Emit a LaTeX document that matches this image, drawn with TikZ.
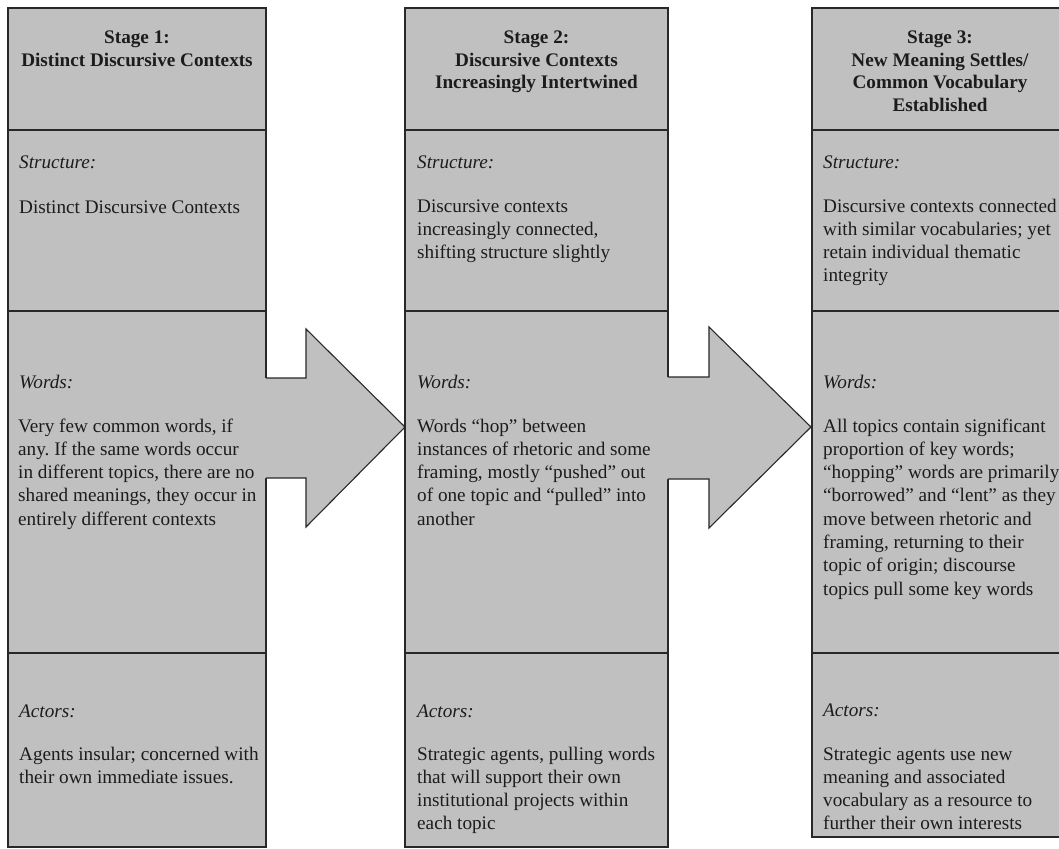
\documentclass[tikz,border=0pt]{standalone}
\usepackage{fontspec}
\setmainfont{Liberation Serif}
\frenchspacing
\definecolor{cellgray}{RGB}{192,192,192}
\definecolor{linegray}{RGB}{40,40,40}
\definecolor{txt}{RGB}{28,28,28}
\begin{document}
\begin{tikzpicture}[x=1pt,y=-1pt,
  col/.style={fill=cellgray, draw=linegray, line width=1.2pt},
  divider/.style={draw=linegray, line width=1.4pt},
  arrowfill/.style={fill=cellgray},
  arrowline/.style={draw=linegray, line width=1.1pt, line join=miter},
  title/.style={font=\fontsize{19.2}{22.5}\selectfont\bfseries, align=center, anchor=base, inner sep=0pt, text=txt},
  head/.style={font=\fontsize{19.2}{23.3}\selectfont\itshape, anchor=base west, inner sep=0pt, text=txt},
  body/.style={font=\fontsize{19.2}{23.3}\selectfont, align=left, anchor=base west, inner sep=0pt, text=txt},
]
\useasboundingbox (0,0) rectangle (1059,848);
\clip (0,0) rectangle (1059,848);

% columns
\draw[col] (8,8) rectangle (266,847);
\draw[col] (405,8) rectangle (668,847);
\draw[col] (812,8) rectangle (1068,837);

% dividers
\foreach \yy in {130,311,653} {
  \draw[divider] (8,\yy) -- (266,\yy);
  \draw[divider] (405,\yy) -- (668,\yy);
  \draw[divider] (812,\yy) -- (1068,\yy);
}

% arrows
\fill[arrowfill] (263,378) -- (306,378) -- (306,329) -- (405,427) -- (306,527) -- (306,478) -- (263,478) -- cycle;
\draw[arrowline] (266,378) -- (306,378) -- (306,329) -- (405,427) -- (306,527) -- (306,478) -- (266,478);
\fill[arrowfill] (665,377) -- (709,377) -- (709,327) -- (811,427) -- (709,528) -- (709,479) -- (665,479) -- cycle;
\draw[arrowline] (668,377) -- (709,377) -- (709,327) -- (811,427) -- (709,528) -- (709,479) -- (668,479);

% (multi-line nodes are placed by the baseline of their last line)
% Stage 1
\node[title] (t1) at (137,66.5) {Stage 1:\\Distinct Discursive Contexts};
\node[head] (s1h) at (19,168) {Structure:};
\node[body] (s1b) at (19,213) {Distinct Discursive Contexts};
\node[head] (w1h) at (19,388) {Words:};
\node[body] (w1b) at (18,525.2) {Very few common words, if\\any. If the same words occur\\in different topics, there are no\\shared meanings, they occur in\\entirely different contexts};
\node[head] (a1h) at (19,717) {Actors:};
\node[body] (a1b) at (19,783.3) {Agents insular; concerned with\\their own immediate issues.};

% Stage 2
\node[title] (t2) at (536.5,89) {Stage 2:\\Discursive Contexts\\Increasingly Intertwined};
\node[head] (s2h) at (417,168) {Structure:};
\node[body] (s2b) at (417,258.6) {Discursive contexts\\increasingly connected,\\shifting structure slightly};
\node[head] (w2h) at (417,388) {Words:};
\node[body] (w2b) at (417,525.2) {Words “hop” between\\instances of rhetoric and some\\framing, mostly “pushed” out\\of one topic and “pulled” into\\another};
\node[head] (a2h) at (417,717) {Actors:};
\node[body] (a2b) at (417,829.9) {Strategic agents, pulling words\\that will support their own\\institutional projects within\\each topic};

% Stage 3
\node[title] (t3) at (940,111.5) {Stage 3:\\New Meaning Settles/\\Common Vocabulary\\Established};
\node[head] (s3h) at (823,168) {Structure:};
\node[body] (s3b) at (823,281.9) {Discursive contexts connected\\with similar vocabularies; yet\\retain individual thematic\\integrity};
\node[head] (w3h) at (823,388) {Words:};
\node[body] (w3b) at (823,595.1) {All topics contain significant\\proportion of key words;\\“hopping” words are primarily\\“borrowed” and “lent” as they\\move between rhetoric and\\framing, returning to their\\topic of origin; discourse\\topics pull some key words};
\node[head] (a3h) at (823,716) {Actors:};
\node[body] (a3b) at (823,829.9) {Strategic agents use new\\meaning and associated\\vocabulary as a resource to\\further their own interests};
\end{tikzpicture}
\end{document}
